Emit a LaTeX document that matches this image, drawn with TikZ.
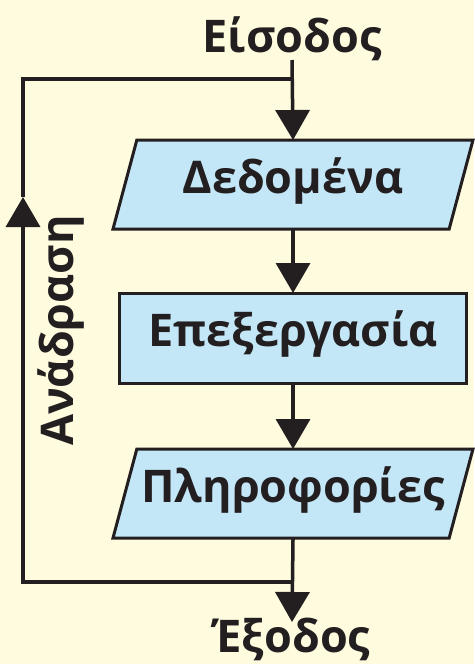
\documentclass[tikz,border=0pt]{standalone}
\usepackage{fontspec}
\setmainfont{Open Sans}
\usetikzlibrary{positioning,arrows.meta,shapes.geometric,backgrounds}
\definecolor{paper}{HTML}{FFFBDF}
\definecolor{boxblue}{HTML}{C4E7F8}
\definecolor{ink}{HTML}{231F20}
\tikzset{
	block base/.style={draw=ink, line width=3pt, fill=boxblue, outer sep=0pt, inner xsep=0pt, inner ysep=36pt, text=ink, text height=17pt, text depth=0pt, font=\fontsize{45}{50}\selectfont\bfseries},
	data block/.style={block base, trapezium, trapezium left angle=75, trapezium right angle=105, trapezium stretches body, minimum width=360pt},
	proc block/.style={block base, rectangle, minimum width=347pt, minimum height=90pt},
	io text/.style={inner sep=0pt, outer sep=0pt, text=ink, text height=30pt, text depth=8pt, font=\fontsize{45}{50}\selectfont\bfseries},
	flow/.style={draw=ink, line width=3.5pt, -{Triangle[width=34pt,length=30pt]}},
	wire/.style={draw=ink, line width=3.5pt},
}

\begin{document}
\begin{tikzpicture}
	\useasboundingbox (0,0) rectangle (474pt,-664pt);
	% On main layer
	\node [io text,anchor=base] (in) at (292pt,-52pt) {Είσοδος};
	\node [data block] (data) at (293pt,-184.5pt) {Δεδομένα};
	\node [proc block,below=64pt of data] (proc) {Επεξεργασία};
	\node [data block,below=66pt of proc] (info) {Πληροφορίες};
	\node [io text,anchor=base] (out) at (292pt,-652pt) {Έξοδος};
	\node [io text,rotate=90,anchor=base] (fb) at (73pt,-330.5pt) {Ανάδραση};

	\coordinate (top join) at (293pt,-79pt);
	\coordinate (bottom join) at (293pt,-582pt);
	\coordinate (fb tip) at (23pt,-197pt);

	\draw [flow] (in.south) -- (data.north);
	\draw [flow] (data.south) -- (proc.north);
	\draw [flow] (proc.south) -- (info.north);
	\draw [flow] (info.south) -- (out.north);
	% feedback loop
	\draw [flow] (bottom join) -| (fb tip);
	\draw [wire] (fb tip) |- (top join);

	\begin{pgfonlayer}{background}
	\fill [paper] (0,0) rectangle (474pt,-664pt);
	\end{pgfonlayer}
\end{tikzpicture}
\end{document}
